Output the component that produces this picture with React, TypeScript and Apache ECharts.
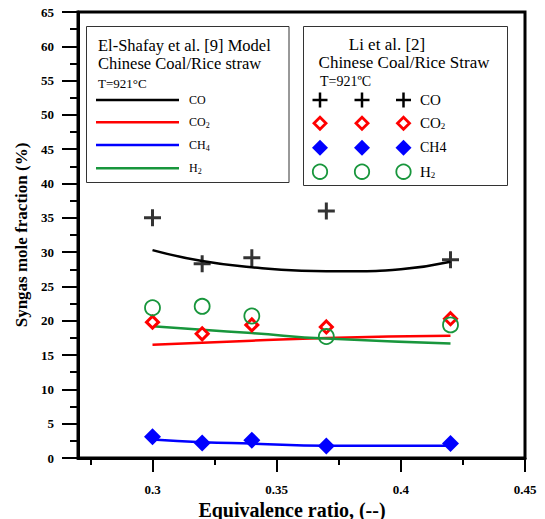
import React, { useEffect, useRef } from "react";
import * as echarts from "echarts";

const FONT = "'Liberation Serif', 'Times New Roman', serif";
const RED = "#ff0000";
const BLUE = "#0000ff";
const GREEN = "#18963c";

// Model (El-Shafay et al.) curves: [equivalence ratio, mole fraction %]
const modelCO: number[][] = [[0.3, 30.3], [0.32, 28.7], [0.34, 27.8], [0.36, 27.3], [0.38, 27.2], [0.4, 27.5], [0.42, 28.6]];
const modelCO2: number[][] = [[0.3, 16.5], [0.32, 16.8], [0.34, 17.1], [0.37, 17.5], [0.42, 17.8]];
const modelCH4: number[][] = [[0.3, 2.7], [0.32, 2.3], [0.34, 2.1], [0.37, 1.8], [0.42, 1.8]];
const modelH2: number[][] = [[0.3, 19.2], [0.32, 18.7], [0.34, 18.2], [0.37, 17.4], [0.42, 16.7]];

// Experimental (Li et al.)
const expER = [0.3, 0.32, 0.34, 0.37, 0.42];
const expCO = [35.0, 28.3, 29.2, 36.0, 28.9];
const expCO2 = [19.8, 18.1, 19.4, 19.1, 20.3];
const expCH4 = [3.1, 2.2, 2.6, 1.75, 2.1];
const expH2 = [21.9, 22.1, 20.7, 17.7, 19.4];

const xMajorTicks = [0.3, 0.35, 0.4, 0.45];
const xMinorTicks = [0.275, 0.325, 0.375, 0.425];

const PLUS = "path://M7,0h3v7h7v3h-7v7h-3v-7h-7v-3h7z";

const pair = (ys: number[]) => expER.map((x, i) => [x, ys[i]]);

function plusGraphic(cx: number, cy: number) {
  return [
    { type: "line", shape: { x1: cx - 7.5, y1: cy, x2: cx + 7.5, y2: cy }, style: { stroke: "#000", lineWidth: 2.5 } },
    { type: "line", shape: { x1: cx, y1: cy - 7.5, x2: cx, y2: cy + 7.5 }, style: { stroke: "#000", lineWidth: 2.5 } },
  ];
}
function diamondGraphic(cx: number, cy: number, r: number, style: any) {
  return {
    type: "polygon",
    shape: { points: [[cx, cy - r], [cx + r, cy], [cx, cy + r], [cx - r, cy]] },
    style,
  };
}

export default function App() {
  const ref = useRef<HTMLDivElement>(null);
  useEffect(() => {
    if (!ref.current) return;
    const chart = echarts.init(ref.current, null, { renderer: "svg" });

    const txt = (x: number, y: number, text: string, size: number, align = "left", rich?: any, weight = "normal") => ({
      type: "text",
      x,
      y,
      style: {
        text,
        fontFamily: FONT,
        fontSize: size,
        fontWeight: weight,
        fill: "#000",
        align,
        verticalAlign: "middle",
        rich,
      },
    });
    const subRich = (size: number, subSize: number) => ({
      a: { fontFamily: FONT, fontSize: size, fill: "#000" },
      s: { fontFamily: FONT, fontSize: subSize, fill: "#000", padding: [6, 0, 0, 0] },
    });

    const leftRows = [100, 122.3, 145, 168.3];
    const rightRows = [100, 123.3, 147.7, 171.7];
    const rightCols = [320, 362, 403.5];

    const graphic: any[] = [
      { type: "rect", shape: { x: 86.5, y: 26.5, width: 202.5, height: 156 }, style: { fill: "#fff", stroke: "#333", lineWidth: 1 } },
      txt(98, 45.5, "El-Shafay et al. [9] Model", 16.5),
      txt(98, 63.5, "Chinese Coal/Rice straw", 16.5),
      txt(98, 83, "T=921°C", 13),
      { type: "line", shape: { x1: 96, y1: leftRows[0], x2: 179, y2: leftRows[0] }, style: { stroke: "#000", lineWidth: 2.5 } },
      { type: "line", shape: { x1: 96, y1: leftRows[1], x2: 179, y2: leftRows[1] }, style: { stroke: RED, lineWidth: 2.5 } },
      { type: "line", shape: { x1: 96, y1: leftRows[2], x2: 179, y2: leftRows[2] }, style: { stroke: BLUE, lineWidth: 2.5 } },
      { type: "line", shape: { x1: 96, y1: leftRows[3], x2: 179, y2: leftRows[3] }, style: { stroke: GREEN, lineWidth: 2.5 } },
      txt(189, leftRows[0], "CO", 12),
      txt(189, leftRows[1], "{a|CO}{s|2}", 12, "left", subRich(12, 8)),
      txt(189, leftRows[2], "{a|CH}{s|4}", 12, "left", subRich(12, 8)),
      txt(189, leftRows[3], "{a|H}{s|2}", 12, "left", subRich(12, 8)),

      { type: "rect", shape: { x: 303.5, y: 26.5, width: 204, height: 159 }, style: { fill: "#fff", stroke: "#333", lineWidth: 1 } },
      txt(387, 44, "Li et al. [2]", 17, "center"),
      txt(404, 62, "Chinese Coal/Rice Straw", 17, "center"),
      txt(320, 81, "T=921ºC", 14),
      txt(420, rightRows[0], "CO", 15),
      txt(420, rightRows[1], "{a|CO}{s|2}", 15, "left", subRich(15, 9)),
      txt(420, rightRows[2], "CH4", 14),
      txt(420, rightRows[3], "{a|H}{s|2}", 15, "left", subRich(15, 9)),

      txt(292, 509.5, "Equivalence ratio, (--)", 20, "center", undefined, "bold"),
    ];
    rightCols.forEach((cx) => {
      graphic.push(...plusGraphic(cx, rightRows[0]));
      graphic.push(diamondGraphic(cx, rightRows[1], 6, { fill: "#fff", stroke: RED, lineWidth: 2.8 }));
      graphic.push(diamondGraphic(cx, rightRows[2], 8, { fill: BLUE }));
      graphic.push({ type: "circle", shape: { cx, cy: rightRows[3], r: 7.2 }, style: { fill: "none", stroke: GREEN, lineWidth: 1.8 } });
    });

    const axisLabelStyle = { fontFamily: FONT, fontSize: 13, fontWeight: "bold", color: "#000" };

    chart.setOption({
      animation: false,
      grid: { left: 78, right: 20, top: 12, bottom: 61, show: true, borderColor: "#000", borderWidth: 3 },
      xAxis: [
        {
          type: "value",
          min: 0.27,
          max: 0.45,
          position: "bottom",
          axisLine: { show: true, onZero: false, lineStyle: { color: "#000", width: 3 } },
          axisTick: { show: true, length: 14, customValues: xMajorTicks, lineStyle: { color: "#000", width: 2 } },
          axisLabel: { ...axisLabelStyle, margin: 25, customValues: xMajorTicks, formatter: (v: number) => String(v) },
          splitLine: { show: false },
        },
        {
          type: "value",
          min: 0.27,
          max: 0.45,
          position: "bottom",
          axisLine: { show: false },
          axisTick: { show: true, length: 7, customValues: xMinorTicks, lineStyle: { color: "#000", width: 2 } },
          axisLabel: { show: false },
          splitLine: { show: false },
        },
      ],
      yAxis: {
        type: "value",
        min: 0,
        max: 65,
        interval: 5,
        name: "Syngas mole fraction (%)",
        nameLocation: "middle",
        nameGap: 45,
        nameTextStyle: { fontFamily: FONT, fontSize: 17, fontWeight: "bold", color: "#000" },
        axisLine: { show: true, lineStyle: { color: "#000", width: 3 } },
        axisTick: { show: true, length: 16, lineStyle: { color: "#000", width: 2 } },
        minorTick: { show: true, splitNumber: 2, length: 8, lineStyle: { color: "#000", width: 2 } },
        axisLabel: { ...axisLabelStyle, margin: 24 },
        splitLine: { show: false },
      },
      graphic,
      series: [
        { type: "line", name: "CO model", data: modelCO, smooth: true, showSymbol: false, lineStyle: { color: "#000", width: 2.5 }, z: 2 },
        { type: "line", name: "CO2 model", data: modelCO2, smooth: true, showSymbol: false, lineStyle: { color: RED, width: 2.5 }, z: 2 },
        { type: "line", name: "CH4 model", data: modelCH4, smooth: true, showSymbol: false, lineStyle: { color: BLUE, width: 2.5 }, z: 2 },
        { type: "line", name: "H2 model", data: modelH2, smooth: true, showSymbol: false, lineStyle: { color: GREEN, width: 2.5 }, z: 2 },
        { type: "scatter", name: "CO exp", data: pair(expCO), symbol: PLUS, symbolSize: 17, itemStyle: { color: "#000" }, z: 3 },
        { type: "scatter", name: "CO2 exp", data: pair(expCO2), symbol: "diamond", symbolSize: 12, itemStyle: { color: "#fff", borderColor: RED, borderWidth: 3, opacity: 1 }, z: 3 },
        { type: "scatter", name: "CH4 exp", data: pair(expCH4), symbol: "diamond", symbolSize: 17, itemStyle: { color: BLUE, opacity: 1 }, z: 3 },
        { type: "scatter", name: "H2 exp", data: pair(expH2), symbol: "circle", symbolSize: 15, itemStyle: { color: "transparent", borderColor: GREEN, borderWidth: 1.8, opacity: 1 }, z: 4 },
      ],
    });
    return () => chart.dispose();
  }, []);
  return <div ref={ref} style={{ position: "fixed", left: 0, top: 0, width: 545, height: 519, background: "#fff" }} />;
}
